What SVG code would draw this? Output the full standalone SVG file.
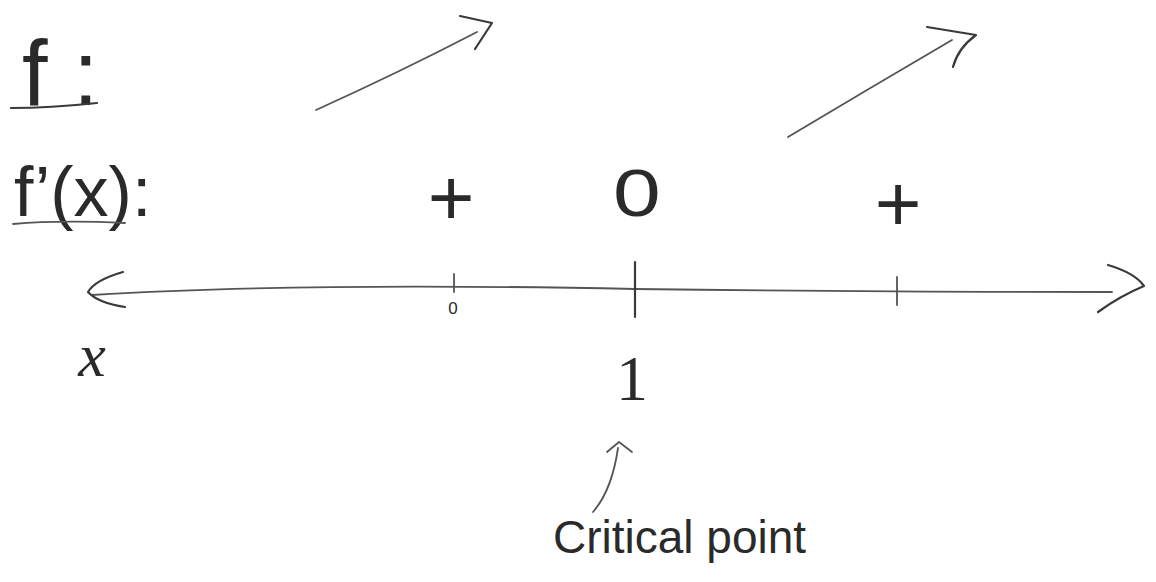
<svg xmlns="http://www.w3.org/2000/svg" width="1156" height="582" viewBox="0 0 1156 582">
<style>
.ink{fill:none;stroke:#3a3a3a;stroke-width:2.2;stroke-linecap:round;stroke-linejoin:round}
.thin{fill:none;stroke:#555;stroke-width:1.8;stroke-linecap:round;stroke-linejoin:round}
.t{font-family:"Liberation Sans",Arial,sans-serif;fill:#2a2a2a}
.s{font-family:"Liberation Serif","Times New Roman",serif;fill:#2a2a2a}
</style>
<rect width="1156" height="582" fill="#ffffff"/>
<g id="label-f">
<text class="t" x="22" y="105" font-size="92">f :</text>
<path class="ink" d="M11 108 Q50 108 97 103"/>
</g>
<g id="label-fprime">
<text class="t" x="14" y="216" font-size="70">f’(x):</text>
<path class="thin" d="M13 224 Q60 220 125 223"/>
</g>
<g id="sign-left">
<text class="t" x="451" y="225" font-size="80" text-anchor="middle">+</text>
</g>
<g id="sign-zero">
<text class="t" x="490" y="216" font-size="66" text-anchor="middle" transform="translate(637 0) scale(1.3 1) translate(-490 0)">0</text>
</g>
<g id="sign-right">
<text class="t" x="898" y="231" font-size="80" text-anchor="middle">+</text>
</g>
<g id="tick-label-0">
<text class="t" x="453" y="314" font-size="17" text-anchor="middle">0</text>
</g>
<g id="axis-label-x">
<text class="s" x="92" y="376" font-size="62" font-style="italic" text-anchor="middle">x</text>
</g>
<g id="tick-label-1">
<text class="s" x="632" y="400" font-size="64" text-anchor="middle">1</text>
</g>
<g id="note-critical">
<text class="t" x="553" y="553" font-size="46">Critical point</text>
</g>
<g id="connectors">
<path class="thin" d="M316 110 Q400 72 477 32"/>
<path class="ink" d="M460 16 L492 23 L475 49"/>
<path class="thin" d="M788 137 Q870 88 952 40"/>
<path class="ink" d="M927 27 L976 35 Q958 48 953 67"/>
<path class="thin" d="M92 295 Q300 282 635 289 Q900 292 1112 292"/>
<path class="ink" d="M123 272 Q95 280 88 292 Q98 303 125 307"/>
<path class="ink" d="M1108 265 Q1135 273 1144 286 Q1120 296 1098 312"/>
<path class="thin" d="M454 274 L454 292"/>
<path class="ink" d="M635 262 L635 317"/>
<path class="thin" d="M897 277 L897 305"/>
<path class="thin" d="M593 512 Q612 490 618 448"/>
<path class="thin" d="M607 452 L619 442 L632 452"/>
</g>
</svg>
